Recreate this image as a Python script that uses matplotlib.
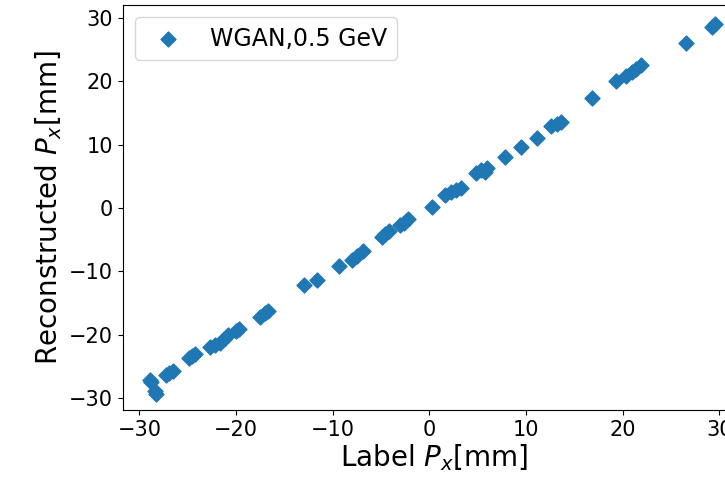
import matplotlib

matplotlib.use("Agg")
import matplotlib.pyplot as plt  # noqa: E402

# label Px vs reconstructed Px
label_px = [
    -28.8, -28.9, -28.3, -28.4, -27.3, -26.9, -26.5, -24.9, -24.6, -24.3,
    -22.7, -22.2, -21.7, -21.2, -20.8, -20.0, -19.7, -17.5, -17.0, -16.7,
    -13.0, -11.6, -9.4, -8.0, -7.5, -6.9, -4.9, -4.6, -4.2, -3.0,
    -2.6, -2.2, 0.3, 1.6, 2.2, 2.8, 3.3, 4.8, 5.3, 5.8,
    6.0, 7.8, 9.5, 11.1, 12.6, 13.2, 13.6, 16.8, 19.3, 20.4,
    21.0, 21.4, 21.9, 26.6, 29.2, 29.6,
]
reco_px = [
    -27.5, -27.2, -29.4, -28.9, -26.4, -26.0, -25.7, -23.6, -23.4, -23.1,
    -21.9, -21.6, -21.3, -20.6, -20.1, -19.4, -19.1, -17.2, -16.6, -16.2,
    -12.2, -11.3, -9.2, -8.2, -7.5, -6.8, -4.6, -4.1, -3.6, -2.7,
    -2.3, -1.8, 0.1, 2.1, 2.5, 2.9, 3.1, 5.5, 6.0, 5.7,
    6.3, 8.1, 9.7, 11.1, 12.9, 13.2, 13.6, 17.3, 20.1, 20.9,
    21.4, 22.0, 22.5, 26.1, 28.5, 29.0,
]
series_label = "WGAN,0.5 GeV"
xticks = [-30, -20, -10, 0, 10, 20, 30]
yticks = [-30, -20, -10, 0, 10, 20, 30]

fig = plt.figure(figsize=(7.25, 4.82), dpi=100)
# the reference is cropped on the right, so the axes run past the figure edge
ax = fig.add_axes([0.1697, 0.149, 0.857, 0.840])

ax.scatter(label_px, reco_px, marker="D", s=58, color="#1f77b4", label=series_label)

ax.set_xlim(-31.7, 32.6)
ax.set_ylim(-31.9, 32.0)
ax.set_xticks(xticks)
ax.set_yticks(yticks)
ax.tick_params(labelsize=15)
ax.set_xlabel("Label $P_x$[mm]", fontsize=20, labelpad=2)
ax.set_ylabel("Reconstructed $P_x$[mm]", fontsize=20)
ax.legend(loc="upper left", fontsize=17, scatterpoints=1)

fig.savefig("out.png", dpi=100)
